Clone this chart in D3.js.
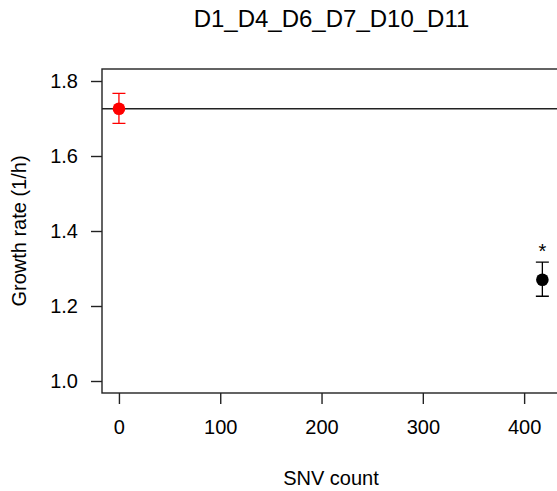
<!DOCTYPE html>
<html>
<head>
<meta charset="utf-8">
<script src="https://cdn.jsdelivr.net/npm/d3@7"></script>
<style>
  body { margin: 0; background: #fff; }
  text { font-family: "Liberation Sans", Arial, sans-serif; fill: #000; }
</style>
</head>
<body>
<div class="graph"></div>
<script>
const title = 'D1_D4_D6_D7_D10_D11';
const snvCount = [0, 418];
const growthRate = [1.726, 1.270];
const errLow = [1.687, 1.226];
const errHigh = [1.767, 1.317];
const pointColor = ['#ff0000', '#000000'];
const significant = [false, true];
const refRate = 1.726;
const xTicks = [0, 100, 200, 300, 400];
const yTicks = [1.0, 1.2, 1.4, 1.6, 1.8];

const width = 557, height = 491;
const margin = { top: 69, bottom: 98, left: 102, right: -2.3 };
const chartWidth = width - margin.left - margin.right;
const chartHeight = height - margin.top - margin.bottom;

const svg = d3.select('.graph')
    .append('svg')
    .attr('width', width)
    .attr('height', height);

const chart = svg.append('g')
    .attr('transform', `translate(${margin.left},${margin.top})`);

// R-style 4% padding on both ends
const xExt = d3.extent(snvCount), xPad = (xExt[1] - xExt[0]) * 0.04;
const yExt = [1.0, 1.8], yPad = (yExt[1] - yExt[0]) * 0.04;

const xScale = d3.scaleLinear()
    .domain([xExt[0] - xPad, xExt[1] + xPad])
    .range([0, chartWidth]);
const yScale = d3.scaleLinear()
    .domain([yExt[0] - yPad, yExt[1] + yPad])
    .range([chartHeight, 0]);

const xAxis = d3.axisBottom(xScale).tickValues(xTicks).tickSize(11).tickPadding(16)
    .tickFormat(d3.format('d'));
const yAxis = d3.axisLeft(yScale).tickValues(yTicks).tickSize(11).tickPadding(13)
    .tickFormat(d3.format('.1f'));

const gx = chart.append('g')
    .attr('transform', `translate(0,${chartHeight})`)
    .call(xAxis);
const gy = chart.append('g').call(yAxis);
[gx, gy].forEach(g => {
    g.select('.domain').remove();
    g.selectAll('.tick line').attr('stroke', '#222').attr('stroke-width', 1.4);
    g.selectAll('.tick text').style('font-size', '20px').attr('fill', '#111');
});

// box
chart.append('rect')
    .attr('x', 0).attr('y', 0)
    .attr('width', chartWidth).attr('height', chartHeight)
    .attr('fill', 'none').attr('stroke', '#222').attr('stroke-width', 1.4);

// reference line
chart.append('line')
    .attr('x1', 0).attr('x2', chartWidth)
    .attr('y1', yScale(refRate)).attr('y2', yScale(refRate))
    .attr('stroke', '#222').attr('stroke-width', 1.3);

const idx = d3.range(snvCount.length);
const cap = 6.5;

chart.selectAll('.err')
    .data(idx)
    .enter()
    .append('path')
    .attr('fill', 'none')
    .attr('stroke', i => pointColor[i])
    .attr('stroke-width', 1.3)
    .attr('d', i => {
        const x = xScale(snvCount[i]), y0 = yScale(errLow[i]), y1 = yScale(errHigh[i]);
        return `M${x},${y0}V${y1}M${x - cap},${y0}H${x + cap}M${x - cap},${y1}H${x + cap}`;
    });

chart.selectAll('.pt')
    .data(idx)
    .enter()
    .append('circle')
    .attr('cx', i => xScale(snvCount[i]))
    .attr('cy', i => yScale(growthRate[i]))
    .attr('r', 6.3)
    .attr('fill', i => pointColor[i]);

chart.selectAll('.star')
    .data(idx.filter(i => significant[i]))
    .enter()
    .append('text')
    .attr('x', i => xScale(snvCount[i]))
    .attr('y', i => yScale(errHigh[i]) - 4)
    .style('text-anchor', 'middle')
    .style('font-size', '20px')
    .attr('fill', '#333')
    .text('*');

svg.append('text')
    .attr('x', 331.5).attr('y', 27)
    .style('text-anchor', 'middle')
    .style('font-size', '24px')
    .text(title);

svg.append('text')
    .attr('x', 331).attr('y', 485)
    .style('text-anchor', 'middle')
    .style('font-size', '20px')
    .text('SNV count');

svg.append('text')
    .attr('transform', `translate(26,${margin.top + yScale(1.4)}) rotate(-90)`)
    .style('text-anchor', 'middle')
    .style('font-size', '20px')
    .text('Growth rate (1/h)');
</script>
</body>
</html>
